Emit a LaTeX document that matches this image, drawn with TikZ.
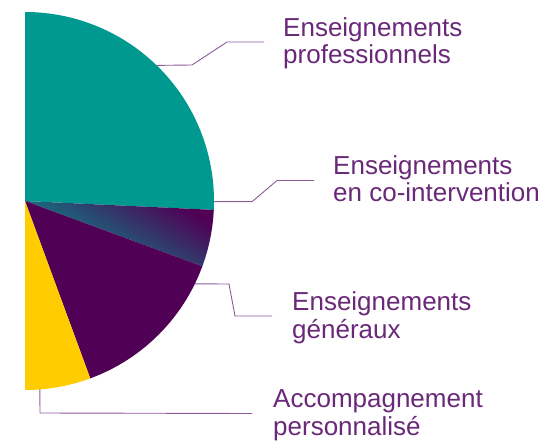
\documentclass[tikz,border=0pt]{standalone}
\usepackage{fontspec}
\setmainfont{Liberation Sans}
\usetikzlibrary{calc}
\definecolor{pieteal}{RGB}{0,153,144}
\definecolor{piepurple}{RGB}{80,0,85}
\definecolor{pieyellow}{RGB}{255,204,0}
\definecolor{labelpurple}{RGB}{106,40,120}
\definecolor{leaderpurple}{RGB}{140,90,155}
\tikzset{
  leader/.style={draw=leaderpurple, line width=0.9pt},
  pielabel/.style={anchor=base west, inner sep=0pt, align=left, text=labelpurple,
    font=\fontsize{26}{27.5}\selectfont}
}
\def\pieradius{189}

\begin{document}
\begin{tikzpicture}[x=1pt, y=1pt]
		%%%%% START %%%%%
		\useasboundingbox (-25, -240) rectangle (523, 201);
		
		\fill[pieteal] (0, 0) -- (90:\pieradius) arc (90:-2.7:\pieradius) -- cycle;
		\shade[bottom color=pieteal, top color=piepurple, shading angle=-31]
			(0, 0) -- (-2.7:\pieradius) arc (-2.7:-20.2:\pieradius) -- cycle;
		\fill[piepurple] (0, 0) -- (-20.2:\pieradius) arc (-20.2:-69.8:\pieradius) -- cycle;
		\fill[pieyellow] (0, 0) -- (-69.8:\pieradius) arc (-69.8:-90:\pieradius) -- cycle;
		
		\coordinate (pro) at (45.85:\pieradius);
		\coordinate (cointer) at (-0.2:\pieradius);
		\coordinate (gen) at (-26:\pieradius);
		\coordinate (accomp) at (-85.5:\pieradius);
		
		% base = baseline of the last line
		\node[pielabel] (lpro) at (258, 137) {Enseignements\\professionnels};
		\node[pielabel] (lcointer) at (308, -1) {Enseignements\\en co-intervention};
		\node[pielabel] (lgen) at (267, -137) {Enseignements\\généraux};
		\node[pielabel] (laccomp) at (248, -234) {Accompagnement\\personnalisé};
		
		\draw[leader] (pro) -- (167, 136) -- (202, 159) -- (239, 159);
		\draw[leader] (cointer) -- (227, -0.7) -- (252, 20.5) -- (289, 20.5);
		\draw[leader] (gen) -- (204, -83) -- (210, -115) -- (247, -115);
		\draw[leader] (accomp) -- (15, -212) -- (227, -212.5);
		%%%%% END %%%%%
\end{tikzpicture}
\end{document}
